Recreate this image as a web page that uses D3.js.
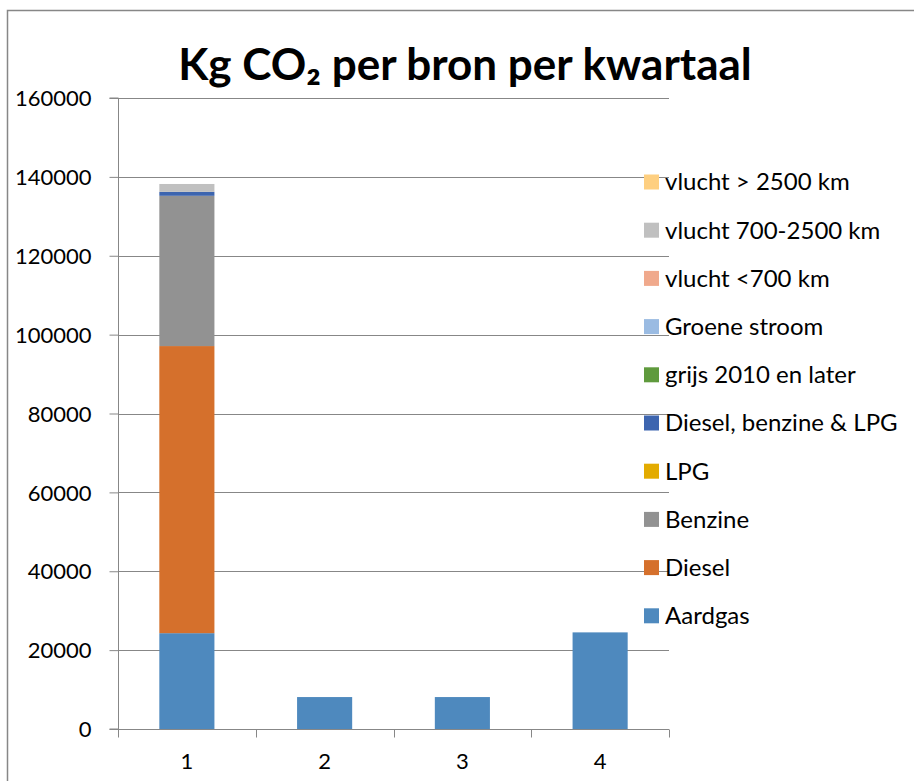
<!DOCTYPE html>
<html>
<head>
<meta charset="utf-8">
<script src="https://cdn.jsdelivr.net/npm/d3@7"></script>
<style>
  body { margin: 0; background: #fff; }
  text { font-family: Lato, "Noto Sans", sans-serif; fill: #000; }
</style>
</head>
<body>
<div class="visHolder"></div>
<script>
// quarters on the x axis
var quarters = ["1", "2", "3", "4"];
var yTicks = [0, 20000, 40000, 60000, 80000, 100000, 120000, 140000, 160000];

// series, bottom to top of the stack
var seriesNames = ["Aardgas", "Diesel", "Benzine", "LPG", "Diesel, benzine & LPG",
    "grijs 2010 en later", "Groene stroom", "vlucht <700 km", "vlucht 700-2500 km", "vlucht > 2500 km"];
var seriesColors = ["#4E89BE", "#D5702C", "#929292", "#E3AB00", "#3D65AF",
    "#5F9A3D", "#9ABBE2", "#F0A98C", "#C0C0C0", "#FECF80"];

var aardgas = [24300, 8100, 8100, 24500];
var diesel = [72800, 0, 0, 0];
var benzine = [38100, 0, 0, 0];
var lpg = [0, 0, 0, 0];
var dieselBenzineLpg = [1000, 0, 0, 0];
var grijs = [0, 0, 0, 0];
var groeneStroom = [0, 0, 0, 0];
var vluchtKort = [0, 0, 0, 0];
var vluchtMidden = [2000, 0, 0, 0];
var vluchtLang = [0, 0, 0, 0];

var seriesValues = [aardgas, diesel, benzine, lpg, dieselBenzineLpg,
    grijs, groeneStroom, vluchtKort, vluchtMidden, vluchtLang];

// table for d3.stack
var table = quarters.map(function(q, i) {
    var row = { quarter: q };
    seriesNames.forEach(function(name, s) { row[name] = seriesValues[s][i]; });
    return row;
});

var W = 914, H = 781;
var plot = { left: 118, right: 669, top: 98, bottom: 729 };
var gridColor = "#878787";

var svg = d3.select(".visHolder")
    .append("svg")
    .attr("width", W)
    .attr("height", H);

// chart border
svg.append("rect")
    .attr("x", 7.5).attr("y", 10.5)
    .attr("width", W + 10).attr("height", H + 10)
    .attr("fill", "#fff")
    .attr("stroke", gridColor)
    .attr("stroke-width", 1.5);

var x = d3.scaleBand()
    .domain(quarters)
    .range([plot.left, plot.right])
    .paddingInner(0.6)
    .paddingOuter(0.3);

var y = d3.scaleLinear()
    .domain([0, 160000])
    .range([plot.bottom, plot.top]);

// gridlines
svg.append("g")
    .selectAll("line")
    .data(yTicks.slice(1))
    .enter()
    .append("line")
    .attr("x1", plot.left).attr("x2", plot.right)
    .attr("y1", function(d) { return Math.round(y(d)) + 0.5; })
    .attr("y2", function(d) { return Math.round(y(d)) + 0.5; })
    .attr("stroke", gridColor)
    .attr("stroke-width", 1);

// y axis
var yAxis = svg.append("g")
    .attr("transform", "translate(" + (plot.left + 0.5) + ",0)")
    .call(d3.axisLeft(y).tickValues(yTicks).tickSize(9).tickPadding(18).tickFormat(d3.format("d")));
yAxis.selectAll("line").attr("stroke", gridColor);
yAxis.select(".domain").attr("stroke", gridColor).attr("d", "M-9," + plot.top + "H0V" + plot.bottom + "H-9");
yAxis.selectAll("text").style("font-size", "22px").attr("dy", "0.35em");

// stacked bars
var stack = d3.stack().keys(seriesNames);
var layers = stack(table);

svg.append("g")
    .selectAll("g")
    .data(layers)
    .enter()
    .append("g")
    .attr("fill", function(d, i) { return seriesColors[i]; })
    .selectAll("rect")
    .data(function(d) { return d; })
    .enter()
    .append("rect")
    .attr("x", function(d) { return x(d.data.quarter); })
    .attr("y", function(d) { return y(d[1]); })
    .attr("width", x.bandwidth())
    .attr("height", function(d) { return y(d[0]) - y(d[1]); });

// x axis
var xAxis = svg.append("g")
    .attr("transform", "translate(0," + (plot.bottom + 0.5) + ")")
    .call(d3.axisBottom(x).tickSize(0).tickPadding(24));
xAxis.select(".domain").attr("stroke", gridColor).attr("d", "M" + plot.left + ",0H" + plot.right);
xAxis.selectAll("text").style("font-size", "22px");

// category boundary ticks
var bounds = quarters.map(function(q) { return x(q) - x.step() * x.paddingInner() / 2; });
bounds.push(plot.right);
xAxis.append("g")
    .selectAll("line")
    .data(bounds)
    .enter()
    .append("line")
    .attr("x1", function(d) { return Math.round(d) + 0.5; })
    .attr("x2", function(d) { return Math.round(d) + 0.5; })
    .attr("y1", 0).attr("y2", 8)
    .attr("stroke", gridColor);

// title
var title = svg.append("text")
    .attr("x", 465)
    .attr("y", 80)
    .attr("text-anchor", "middle")
    .style("font-size", "44px")
    .style("font-weight", "bold");
title.append("tspan").text("Kg CO");
title.append("tspan").text("₂");
title.append("tspan").text(" per bron per kwartaal");

// legend, top item is last series
var legend = svg.append("g");
var legendItems = seriesNames.slice().reverse();
var legendColors = seriesColors.slice().reverse();
legendItems.forEach(function(name, i) {
    var cy = 182 + i * 48.2;
    legend.append("rect")
        .attr("x", 644).attr("y", cy - 7.5)
        .attr("width", 15).attr("height", 15)
        .attr("fill", legendColors[i]);
    legend.append("text")
        .attr("x", 665).attr("y", cy)
        .attr("dy", "0.35em")
        .style("font-size", "24px")
        .text(name);
});
</script>
</body>
</html>
